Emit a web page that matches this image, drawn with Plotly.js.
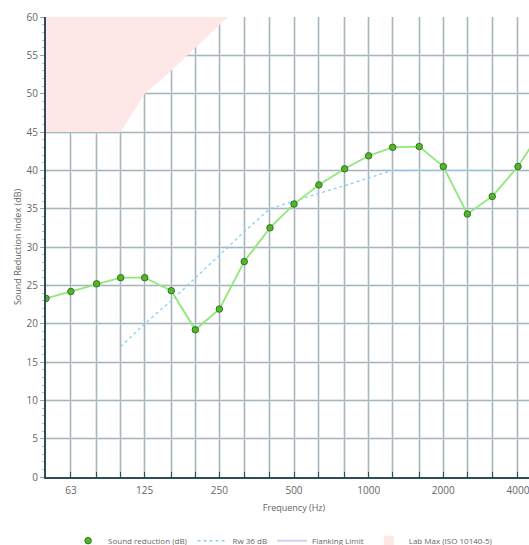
<!DOCTYPE html>
<html>
<head>
<meta charset="utf-8">
<script src="https://cdn.plot.ly/plotly-3.0.1.min.js"></script>
<style>
html,body{margin:0;padding:0;overflow:hidden;background:#fff;width:529px;height:545px;}
#chart{width:560px;height:545px;}
</style>
</head>
<body>
<div id="chart"></div>
<script>
// Data
const freqs = [50,63,80,100,125,160,200,250,315,400,500,630,800,1000,1250,1600,2000,2500,3150,4000,5000];
const soundReduction = [23.3,24.2,25.2,26.0,26.0,24.3,19.2,21.9,28.1,32.5,35.6,38.1,40.2,41.9,43.0,43.1,40.5,34.3,36.6,40.5,45.3];
const rwFreqs = [100,125,160,200,250,315,400,500,630,800,1000,1250,1600,2000,2500,3150];
const rwCurve = [17,20,23,26,29,32,35,36,37,38,39,40,40,40,40,40];
const flankingFreqs = [];
const flankingLimit = [];
const labMaxFreqs = [50,63,80,100,125,160,200,250,315];
const labMax = [45,45,45,45,50,53,56,59,62];
const xTickText = ['','63','','','125','','','250','','','500','','','1000','','','2000','','','4000',''];
const yRange = [0,60];

const ceiling = labMaxFreqs.map(() => yRange[1] + 20);

const traces = [
  {x: labMaxFreqs, y: labMax, mode: 'lines', line: {width: 0, color: 'rgba(0,0,0,0)'}, showlegend: false, hoverinfo: 'skip'},
  {x: labMaxFreqs, y: ceiling, mode: 'lines', fill: 'tonexty', fillcolor: '#fde7e7', line: {width: 0, color: 'rgba(0,0,0,0)'}, name: 'Lab Max (ISO 10140-5)', showlegend: false, hoverinfo: 'skip'},
  {x: flankingFreqs, y: flankingLimit, mode: 'lines', line: {color: '#d9ccf7', width: 2}, name: 'Flanking Limit', showlegend: false},
  {x: rwFreqs, y: rwCurve, xaxis: 'x2', yaxis: 'y2', mode: 'lines', line: {color: '#87cefa', width: 1.3, dash: 'dot'}, name: 'Rw 36 dB', showlegend: false},
  {x: freqs, y: soundReduction, xaxis: 'x2', yaxis: 'y2', mode: 'lines+markers', line: {color: '#8fe878', width: 1.8},
   marker: {color: '#4cbb22', size: 6.5, symbol: 'circle', line: {color: '#3d6b33', width: 1}}, name: 'Sound reduction (dB)', showlegend: false},
  // legend entries
  {x: [null], y: [null], mode: 'markers', marker: {color: '#4cbb22', size: 6.5, line: {color: '#3d6b33', width: 1}}, name: 'Sound reduction (dB)', showlegend: true},
  {x: [null], y: [null], mode: 'lines', line: {color: '#87cefa', width: 1.5, dash: 'dot'}, name: 'Rw 36 dB', showlegend: true},
  {x: [null], y: [null], mode: 'lines', line: {color: '#d9ccf7', width: 2}, name: 'Flanking Limit', showlegend: true},
  {x: [null], y: [null], mode: 'markers', marker: {color: '#fde7e7', size: 10, symbol: 'square'}, name: 'Lab Max (ISO 10140-5)', showlegend: true}
];

const fnt = '"Open Sans", "Noto Sans", sans-serif';
const logRange = [Math.log10(freqs[0]), Math.log10(freqs[freqs.length-1])];

const layout = {
  width: 560, height: 545,
  margin: {l: 46, r: 18, t: 17, b: 68, autoexpand: false},
  paper_bgcolor: '#fff', plot_bgcolor: '#fff',
  font: {family: fnt, size: 9, color: '#666'},
  showlegend: true,
  legend: {orientation: 'h', traceorder: 'normal', xref: 'paper', x: 0.478, xanchor: 'center',
           yref: 'container', y: 0.008, yanchor: 'middle',
           font: {size: 8, color: '#666'}, itemwidth: 30, tracegroupgap: 0, bgcolor: 'rgba(0,0,0,0)'},
  xaxis: {type: 'log', range: logRange, tickmode: 'array', tickvals: freqs, ticktext: xTickText,
          showgrid: true, gridcolor: '#e3e8eb', gridwidth: 3, automargin: false,
          showline: true, linecolor: '#2f4d57', linewidth: 2,
          ticks: 'inside', ticklen: 5, tickcolor: '#2f4d57', tickwidth: 1, ticklabelstandoff: 3,
          tickfont: {size: 10, color: '#666'},
          title: {text: 'Frequency (Hz)', font: {size: 9, color: '#666'}, standoff: 9},
          zeroline: false, fixedrange: true},
  yaxis: {range: yRange, dtick: 5, tick0: 0, automargin: false,
          showgrid: true, gridcolor: '#e3e8eb', gridwidth: 3,
          showline: true, linecolor: '#2f4d57', linewidth: 2,
          ticks: 'outside', ticklen: 4, tickcolor: '#9aa5aa', tickwidth: 1,
          minor: {dtick: 1, ticks: 'outside', ticklen: 2, tickcolor: '#b5bec2', showgrid: false},
          tickfont: {size: 10, color: '#666'},
          title: {text: 'Sound Reduction Index (dB)', font: {size: 9, color: '#666'}, standoff: 3},
          zeroline: false, fixedrange: true},
  xaxis2: {type: 'log', range: logRange, overlaying: 'x', tickmode: 'array', tickvals: freqs, automargin: false,
           showticklabels: false, showgrid: true, gridcolor: '#a9b6bc', gridwidth: 1, showline: false, ticks: '', zeroline: false, fixedrange: true},
  yaxis2: {range: yRange, dtick: 5, tick0: 0, overlaying: 'y', showticklabels: false, automargin: false,
           showgrid: true, gridcolor: '#a9b6bc', gridwidth: 1, showline: false, ticks: '', zeroline: false, fixedrange: true}
};

Plotly.newPlot('chart', traces, layout, {displayModeBar: false, staticPlot: true});
</script>
</body>
</html>
